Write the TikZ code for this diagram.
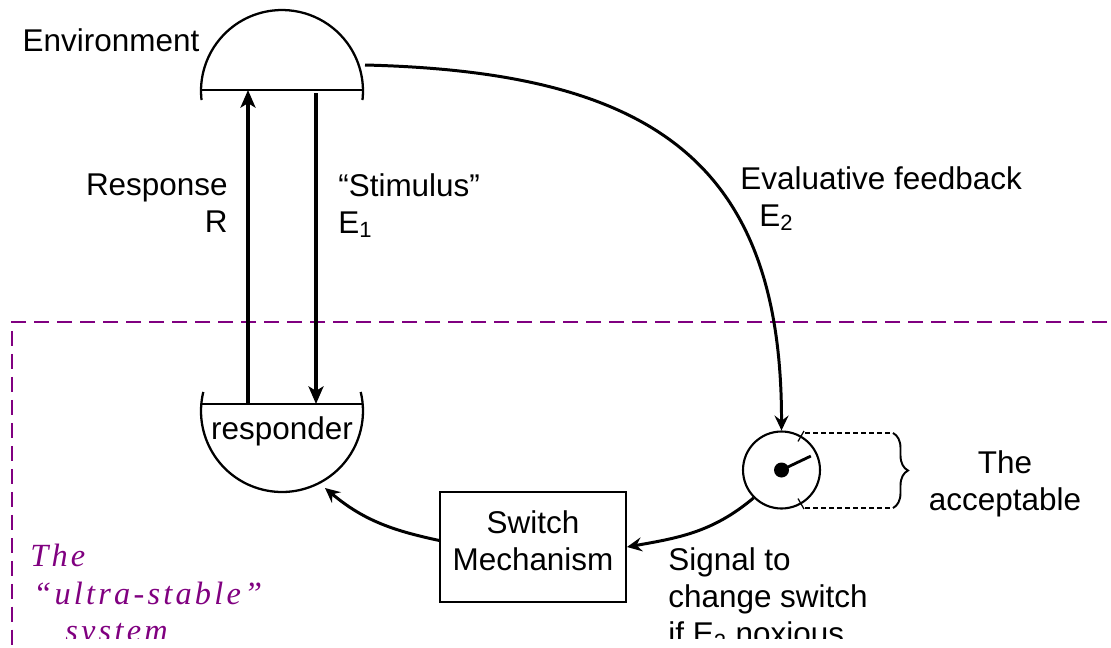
\documentclass[tikz,border=0pt]{standalone}
\usepackage{fontspec}
\setmainfont{Liberation Sans}
\newfontfamily\sysfont[LetterSpace=10]{Liberation Serif}
\usetikzlibrary{arrows.meta,decorations.pathreplacing}
\definecolor{sysPurple}{RGB}{128,0,128}
\begin{document}
\begin{tikzpicture}[x=0.02cm,y=0.02cm,font=\fontsize{17.9pt}{21pt}\selectfont,
        shell/.style={line width=1.3pt},
        bigarrow/.style={line width=2pt,-{Stealth[length=10pt,width=8.5pt,inset=2.5pt]}},
        curvearrow/.style={line width=1.7pt,-{Stealth[length=8.5pt,width=8pt,inset=3pt]}},
        lbl/.style={inner sep=0pt},
        thinline/.style={line width=0.7pt}]
    \clip (0,0) rectangle (1111,647);
    \draw[sysPurple,line width=1.1pt,dash pattern=on 0.3cm off 0.16cm] (1130,325) -- (12,325) -- (12,-20);
    \draw[shell] (282,556) ++(186.4:1.62cm) arc (186.4:-6.4:1.62cm);
    \draw[shell] (201,557) -- (363,557);
    \draw[shell] (282,236) ++(166.4:1.62cm) arc (166.4:373.6:1.62cm);
    \draw[shell] (201,243) -- (363,243);
    \coordinate (envR) at (248,557);
    \coordinate (envS) at (316,554);
    \coordinate (envE) at (365,582);
    \coordinate (resR) at (248,243);
    \coordinate (resS) at (316,243);
    \coordinate (resIn) at (325,159);
    \node[lbl] (envlbl) at (111,607) {Environment};
    \node[lbl] (responder) at (282,216) {responder};
    \node[lbl,anchor=north east,align=right] (resplbl) at (228,473) {Response\\R};
    \node[lbl,anchor=north west,align=left] (stimlbl) at (338,474) {“Stimulus”\\E\textsubscript{1}};
    \node[lbl,anchor=north west,align=left] (evallbl) at (740,481) {Evaluative feedback\\\hspace*{0.38cm}E\textsubscript{2}};
    \draw[bigarrow] (resR) -- (envR);
    \draw[bigarrow] (envS) -- (resS);
    \node[circle,draw,line width=1.2pt,minimum size=1.54cm,inner sep=0pt] (dial) at (781.5,177) {};
    \fill (dial.center) circle (0.15cm);
    \draw[line width=1.6pt] (dial.center) -- +(25.4:0.65cm);
    \draw[thinline] (dial.center) ++(60:0.66cm) -- +(60:0.24cm);
    \draw[thinline] (dial.center) ++(-60:0.66cm) -- +(-60:0.24cm);
    \draw[thinline,dash pattern=on 0.1cm off 0.06cm] (805,214) -- (893,214);
    \draw[thinline,dash pattern=on 0.1cm off 0.06cm] (805,139) -- (893,139);
    \draw[line width=1.1pt,decorate,decoration={brace,amplitude=0.3cm}] (893,214) -- (893,139);
    \node[lbl,anchor=north,align=center] (acclbl) at (1005,197) {The\\acceptable};
    \draw[curvearrow] (envE) .. controls (650,575) and (782,487) .. (dial.north);
    \node[draw,line width=1.1pt,minimum width=3.72cm,minimum height=2.2cm,text depth=0.24cm,align=center] (switch) at (533,100) {Switch\\Mechanism};
    \draw[curvearrow] (dial.225) to[out=220,in=10] (switch.east);
    \draw[curvearrow] (switch.176) to[out=168,in=-40] (resIn);
    \begin{scope}
        \clip (0,9) rectangle (1111,647);
        \node[lbl,anchor=north west,align=left,font=\fontsize{17.9pt}{21.3pt}\selectfont] (siglbl) at (668,100) {Signal to\\change switch\\if E\textsubscript{2} noxious};
        \node[lbl,anchor=north west,align=left,text=sysPurple,font=\fontsize{18.4pt}{21.4pt}\sysfont\itshape] (syslbl) at (30,103) {The\\\hspace*{0.06cm}“ultra-stable”\\\hspace*{0.7cm}system};
    \end{scope}
\end{tikzpicture}
\end{document}
